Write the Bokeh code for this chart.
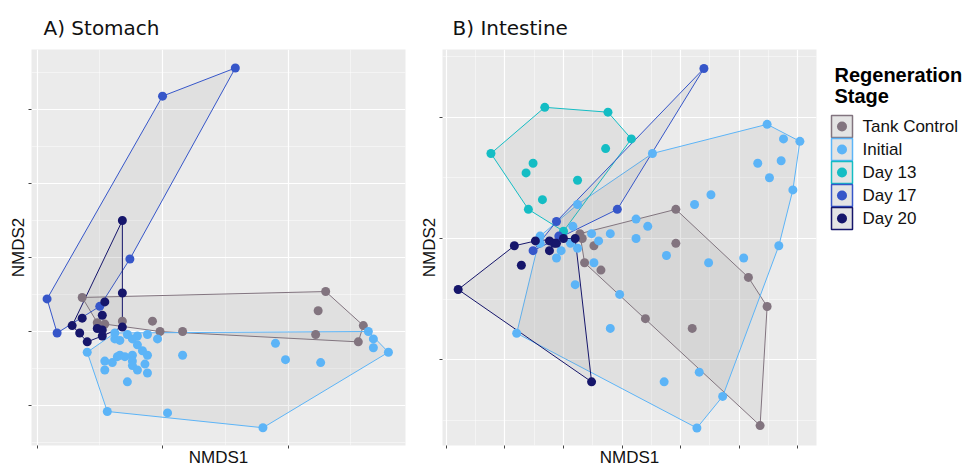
from bokeh.plotting import figure
from bokeh.layouts import row, column
from bokeh.models import Range1d, FixedTicker, Title, Spacer
from bokeh.core.properties import value
from bokeh.embed import file_html
from bokeh.resources import INLINE

# ---------------- data ----------------
groups = ["Tank Control", "Initial", "Day 13", "Day 17", "Day 20"]
colors = ["#82747F", "#5CB4F7", "#14BDC4", "#3656C9", "#16166B"]

# A) Stomach
st_tank_x = [-0.32, 0.65, 0.62, 0.80, 0.78, 0.61, -0.04, -0.01, 0.08, -0.16, -0.26, -0.23]
st_tank_y = [0.23, 0.27, 0.14, 0.04, -0.07, -0.02, 0.07, 0.00, 0.00, 0.07, 0.06, 0.05]
st_init_x = [0.82, 0.84, 0.84, 0.90, 0.40, -0.22, -0.30, 0.02, 0.45, 0.49, 0.63, 0.08,
             -0.14, -0.23, -0.23, -0.20, -0.18, -0.17, -0.15, -0.12, -0.12, -0.12, -0.07,
             -0.10, -0.06, -0.06, -0.08, -0.10, -0.02, -0.06, -0.10, -0.12, -0.14, -0.17,
             -0.19, -0.19]
st_init_y = [0.00, -0.05, -0.11, -0.14, -0.65, -0.54, -0.14, -0.55, -0.08, -0.19, -0.21, -0.16,
             -0.34, -0.26, -0.20, -0.21, -0.17, -0.16, -0.17, -0.16, -0.20, -0.23, -0.22,
             -0.26, -0.28, -0.16, -0.13, -0.09, -0.05, -0.02, -0.03, -0.05, -0.02, -0.06,
             -0.05, -0.01]
st_d13_x = []
st_d13_y = []
st_d17_x = [0.29, 0.00, -0.13, -0.46, -0.42, -0.25]
st_d17_y = [1.78, 1.59, 0.49, 0.22, -0.01, 0.17]
st_d20_x = [-0.16, -0.16, -0.23, -0.24, -0.32, -0.36, -0.33, -0.30, -0.26, -0.24, -0.24, -0.16]
st_d20_y = [0.75, 0.26, 0.20, 0.11, 0.09, 0.04, -0.01, -0.07, 0.02, -0.03, 0.01, 0.03]

# B) Intestine
in_tank_x = [0.07, 0.48, 0.08, 0.13, 0.09, 0.16, 0.48, 0.35, 0.55, 0.79, 0.87, 0.84]
in_tank_y = [0.02, 0.12, 0.00, -0.03, -0.10, -0.13, -0.02, -0.33, -0.37, -0.16, -0.28, -0.77]
in_init_x = [0.87, 0.94, 1.01, 0.38, 0.83, 0.93, 0.88, 0.98, 0.63, 0.56, 0.06, 0.31,
             0.36, 0.04, 0.12, 0.20, 0.15, 0.31, -0.10, 0.03, -0.01, 0.06, -0.03, 0.13,
             0.44, 0.62, 0.77, 0.92, 0.05, 0.24, -0.20, 0.20, 0.43, 0.58, 0.68, 0.57, -0.10]
in_init_y = [0.47, 0.41, 0.40, 0.35, 0.31, 0.32, 0.25, 0.20, 0.18, 0.14, 0.14, 0.08,
             0.05, 0.05, 0.02, 0.02, -0.01, 0.00, 0.01, -0.02, -0.05, -0.04, -0.08, -0.10,
             -0.07, -0.10, -0.08, -0.03, -0.19, -0.23, -0.39, -0.37, -0.59, -0.55, -0.65,
             -0.78, -0.02]
in_d13_x = [-0.08, 0.19, 0.29, -0.31, 0.18, -0.13, -0.16, 0.06, -0.09, -0.15, 0.00]
in_d13_y = [0.54, 0.52, 0.41, 0.35, 0.37, 0.31, 0.27, 0.24, 0.16, 0.12, 0.03]
in_d17_x = [0.60, 0.23, -0.03, -0.02, -0.13]
in_d17_y = [0.70, 0.12, 0.07, 0.01, -0.05]
in_d20_x = [-0.45, -0.21, -0.18, -0.12, -0.06, -0.06, -0.04, -0.03, 0.00, 0.05, 0.12]
in_d20_y = [-0.21, -0.03, -0.11, -0.01, -0.01, -0.05, -0.02, -0.02, 0.00, 0.00, -0.59]

# axis ticks (unlabelled in the original)
st_x_major = [-0.5, 0.0, 0.5]
st_x_minor = [-0.25, 0.25, 0.75]
st_y_major = [-0.5, 0.0, 0.5, 1.0, 1.5]
st_y_minor = [-0.75, -0.25, 0.25, 0.75, 1.25, 1.75]
in_x_major = [-0.5, -0.25, 0.0, 0.25, 0.5, 0.75, 1.0]
in_x_minor = [-0.375, -0.125, 0.125, 0.375, 0.625, 0.875]
in_y_major = [-0.5, 0.0, 0.5]
in_y_minor = [-0.75, -0.25, 0.25, 0.75]


def convex_hull(xs, ys):
    pts = sorted(set(zip(xs, ys)))
    if len(pts) < 3:
        return [p[0] for p in pts], [p[1] for p in pts]

    def cross(o, a, b):
        return (a[0] - o[0]) * (b[1] - o[1]) - (a[1] - o[1]) * (b[0] - o[0])

    lower = []
    for p in pts:
        while len(lower) >= 2 and cross(lower[-2], lower[-1], p) <= 0:
            lower.pop()
        lower.append(p)
    upper = []
    for p in reversed(pts):
        while len(upper) >= 2 and cross(upper[-2], upper[-1], p) <= 0:
            upper.pop()
        upper.append(p)
    h = lower[:-1] + upper[:-1]
    return [p[0] for p in h], [p[1] for p in h]


LABEL_FONT = "Liberation Sans"
FRAME_W, FRAME_H = 374, 396
TOP, BOTTOM = 32, 22


def panel(title, data, xr, yr, xmaj, xmin, ymaj, ymin, bl, br, toff):
    p = figure(frame_width=FRAME_W, frame_height=FRAME_H,
               x_range=Range1d(*xr), y_range=Range1d(*yr),
               output_backend="svg", toolbar_location=None,
               min_border_left=bl, min_border_right=br,
               min_border_top=TOP, min_border_bottom=BOTTOM)
    p.title = Title(text=title, text_font="DejaVu Sans", text_font_size="20px",
                    text_font_style="normal", text_color="#111111", offset=toff, standoff=20)
    p.background_fill_color = "#EBEBEB"
    p.border_fill_color = "white"
    p.outline_line_color = None
    p.xaxis.ticker = FixedTicker(ticks=xmaj, minor_ticks=xmin)
    p.yaxis.ticker = FixedTicker(ticks=ymaj, minor_ticks=ymin)
    p.xaxis.major_label_overrides = {t: "" for t in xmaj}
    p.yaxis.major_label_overrides = {t: "" for t in ymaj}
    for ax in (p.xaxis, p.yaxis):
        ax.axis_line_color = None
        ax.major_tick_line_color = "#444444"
        ax.major_tick_out = 3
        ax.major_tick_in = 0
        ax.minor_tick_out = 0
        ax.minor_tick_in = 0
        ax.major_label_text_font_size = "1px"
        ax.major_label_standoff = 0
        ax.axis_label_text_font = LABEL_FONT
        ax.axis_label_text_font_size = "17px"
        ax.axis_label_text_font_style = "normal"
        ax.axis_label_text_color = "#111111"
    p.xaxis.axis_label_standoff = -1
    p.yaxis.axis_label_standoff = 1
    p.xaxis.axis_label = "NMDS1"
    p.yaxis.axis_label = "NMDS2"
    p.grid.grid_line_color = "white"
    p.grid.grid_line_width = 1.2
    p.grid.minor_grid_line_color = "white"
    p.grid.minor_grid_line_width = 0.6
    p.grid.minor_grid_line_alpha = 0.8

    for (xs, ys), c in zip(data, colors):
        if len(xs) >= 3:
            hx, hy = convex_hull(xs, ys)
            p.patch(hx, hy, fill_color="#808080", fill_alpha=0.1, line_color=c, line_width=1)
    for (xs, ys), c in zip(data, colors):
        if xs:
            p.scatter(xs, ys, size=9, fill_color=c, line_color=c, line_width=0)
    return p


pa = panel("A) Stomach",
           [(st_tank_x, st_tank_y), (st_init_x, st_init_y), (st_d13_x, st_d13_y),
            (st_d17_x, st_d17_y), (st_d20_x, st_d20_y)],
           (-0.522, 0.968), (-0.770, 1.905),
           st_x_major, st_x_minor, st_y_major, st_y_minor, 24, 11, 12)

pb = panel("B) Intestine",
           [(in_tank_x, in_tank_y), (in_init_x, in_init_y), (in_d13_x, in_d13_y),
            (in_d17_x, in_d17_y), (in_d20_x, in_d20_y)],
           (-0.517, 1.081), (-0.852, 0.778),
           in_x_major, in_x_minor, in_y_major, in_y_minor, 23, 8, 10)

# ---------------- legend panel ----------------
pl = figure(frame_width=139, frame_height=FRAME_H, x_range=Range1d(0, 139),
            y_range=Range1d(FRAME_H, 0),
            output_backend="svg", toolbar_location=None,
            min_border_left=0, min_border_right=0, min_border_top=TOP,
            min_border_bottom=BOTTOM)
pl.axis.visible = False
pl.grid.visible = False
pl.outline_line_color = None
pl.background_fill_color = "white"
pl.border_fill_color = "white"

pl.text([10, 10], [25, 46], text=["Regeneration", "Stage"], text_font=value(LABEL_FONT),
        text_font_size="20px", text_font_style="bold", text_baseline="middle",
        text_color="#000000")
row_y = [77 + 23 * i for i in range(len(groups))]
pl.rect([17.5] * len(groups), row_y, width=21, height=22, fill_color="#E4E4E4",
        line_color=colors, line_width=1.5)
pl.scatter([17.5] * len(groups), row_y, size=10, fill_color=colors, line_color=colors,
           line_width=0)
pl.text([38] * len(groups), row_y, text=groups, text_font=value(LABEL_FONT),
        text_font_size="17px", text_baseline="middle", text_color="#111111")

layout = column(Spacer(width=10, height=3),
                row(Spacer(width=5, height=10), pa, pb, pl))
open("out.html", "w").write(file_html(layout, INLINE))
